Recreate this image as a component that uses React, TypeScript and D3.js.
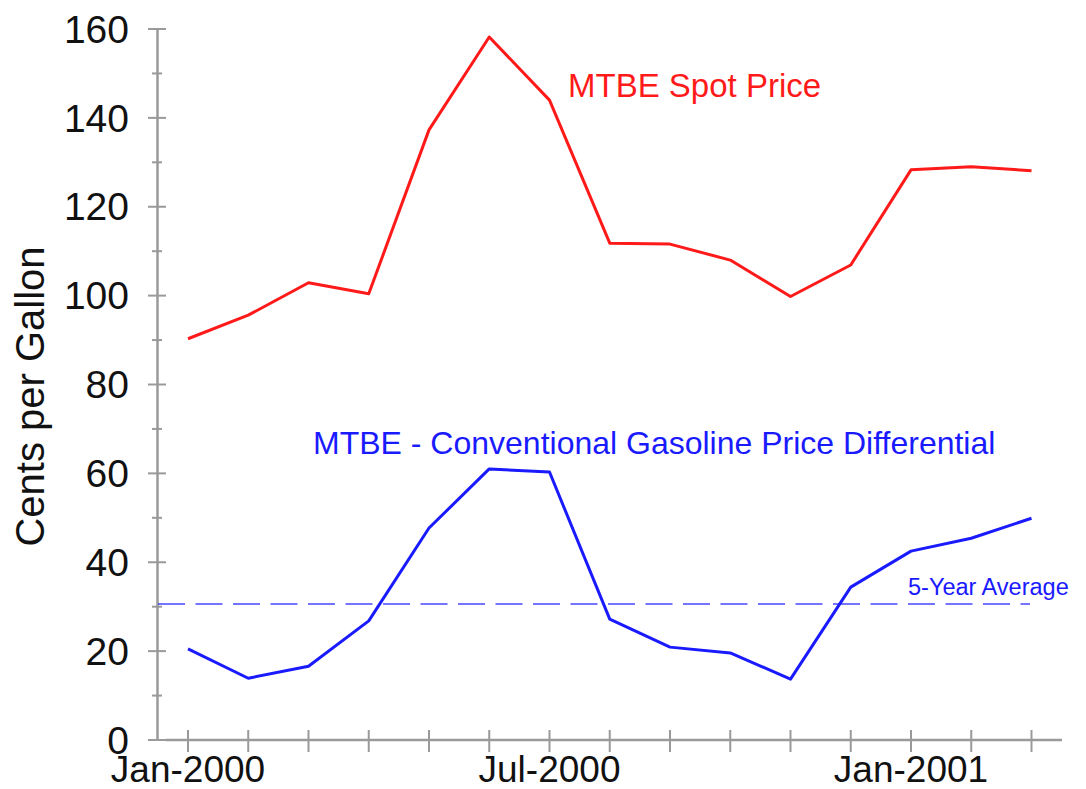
import React from "react";
import * as d3 from "d3";

const months = [
  "Jan-2000", "Feb-2000", "Mar-2000", "Apr-2000", "May-2000", "Jun-2000", "Jul-2000",
  "Aug-2000", "Sep-2000", "Oct-2000", "Nov-2000", "Dec-2000", "Jan-2001", "Feb-2001", "Mar-2001",
];
const mtbeSpot = [90.3, 95.6, 102.9, 100.4, 137.3, 158.2, 144.0, 111.8, 111.6, 108.0, 99.8, 106.9, 128.3, 129.0, 128.1];
const differential = [20.5, 13.9, 16.6, 26.8, 47.7, 61.0, 60.3, 27.2, 20.9, 19.6, 13.7, 34.4, 42.5, 45.4, 49.9];
const fiveYearAverage = 30.6;
const xTickLabels = ["Jan-2000", "Jul-2000", "Jan-2001"];
const yMajorTicks = [0, 20, 40, 60, 80, 100, 120, 140, 160];
const yMinorTicks = [10, 30, 50, 70, 90, 110, 130, 150];

const W = 1086;
const H = 789;
const FONT = "'Liberation Sans', Arial, sans-serif";
const AXIS = "#9a9a9a";
const RED = "#ff1a1a";
const BLUE = "#1a1aff";

export default function App() {
  const x = d3.scalePoint<string>().domain(months).range([188, 1031.5]);
  const y = d3.scaleLinear().domain([0, 160]).range([740, 29]);
  const line = d3
    .line<number>()
    .x((_, i) => x(months[i]) as number)
    .y((d) => y(d));

  const axisX = 157.5;
  return (
    <svg
      width={W}
      height={H}
      style={{ position: "absolute", left: 0, top: 0, background: "#fff" }}
      fontFamily={FONT}
    >
      {/* Y axis */}
      <line x1={axisX} x2={axisX} y1={y(160)} y2={y(0) + 1} stroke={AXIS} strokeWidth={2.5} />
      {yMajorTicks.map((t) => (
        <g key={"M" + t}>
          <line x1={148} x2={166} y1={y(t)} y2={y(t)} stroke={AXIS} strokeWidth={2} />
          <text x={129} y={y(t)} dy="0.35em" textAnchor="end" fontSize={39} fill="#111">
            {t}
          </text>
        </g>
      ))}
      {yMinorTicks.map((t) => (
        <line key={"m" + t} x1={152} x2={162} y1={y(t)} y2={y(t)} stroke={AXIS} strokeWidth={2} />
      ))}
      <text
        transform={`translate(44,${(y(0) + y(160)) / 2 + 12}) rotate(-90)`}
        textAnchor="middle"
        fontSize={40}
        fill="#111"
      >
        Cents per Gallon
      </text>

      {/* X axis */}
      <line x1={166} x2={1062} y1={y(0)} y2={y(0)} stroke={AXIS} strokeWidth={2.5} />
      {months.map((m) => (
        <line key={m} x1={x(m)} x2={x(m)} y1={730} y2={752} stroke={AXIS} strokeWidth={2} />
      ))}
      {xTickLabels.map((m) => (
        <text key={m} x={x(m)} y={782} textAnchor="middle" fontSize={37} fill="#111">
          {m}
        </text>
      ))}

      {/* 5-year average */}
      <line
        x1={158}
        x2={1030}
        y1={y(fiveYearAverage)}
        y2={y(fiveYearAverage)}
        stroke={BLUE}
        strokeWidth={1.5}
        strokeDasharray="27 10.5"
        opacity={0.8}
      />
      <text x={908} y={595} fontSize={23.5} fill={BLUE}>
        5-Year Average
      </text>

      {/* Series */}
      <path d={line(mtbeSpot) || ""} fill="none" stroke={RED} strokeWidth={3} strokeLinejoin="round" />
      <path d={line(differential) || ""} fill="none" stroke={BLUE} strokeWidth={3} strokeLinejoin="round" />

      <text x={568} y={97} fontSize={33} fill={RED}>
        MTBE Spot Price
      </text>
      <text x={313} y={454} fontSize={32} fill={BLUE}>
        MTBE - Conventional Gasoline Price Differential
      </text>
    </svg>
  );
}
